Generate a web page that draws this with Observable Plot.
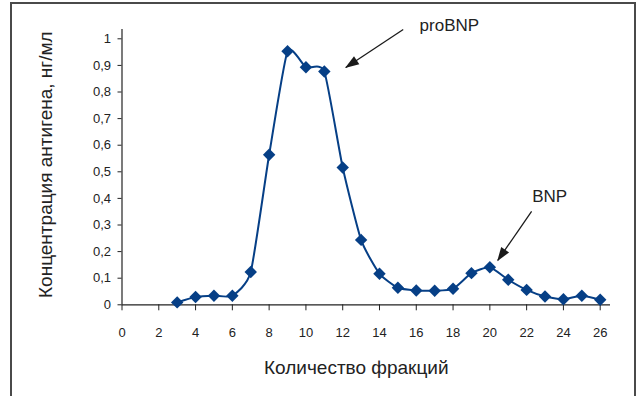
<!DOCTYPE html>
<html><head><meta charset="utf-8">
<script src="https://cdn.jsdelivr.net/npm/d3@7"></script>
<script src="https://cdn.jsdelivr.net/npm/@observablehq/plot@0.6"></script>
<style>
body{margin:0;background:#fff;}
#wrap{position:relative;width:638px;height:396px;overflow:hidden;font-family:"Liberation Sans",Arial,sans-serif;}
#frame{position:absolute;left:10px;top:2px;width:622px;height:420px;border:2px solid #4a4a4a;pointer-events:none;}
#wrap svg{position:absolute;left:0;top:0;}
</style></head><body>
<div id="wrap"><div id="frame"></div></div>
<script>
const fractions = [3,4,5,6,7,8,9,10,11,12,13,14,15,16,17,18,19,20,21,22,23,24,25,26];
const concentration = [0.009,0.029,0.034,0.034,0.123,0.564,0.953,0.893,0.877,0.516,0.244,0.117,0.064,0.054,0.053,0.06,0.119,0.141,0.094,0.056,0.031,0.021,0.034,0.019];
const xTicks = [0,2,4,6,8,10,12,14,16,18,20,22,24,26];
const yTicks = [0,0.1,0.2,0.3,0.4,0.5,0.6,0.7,0.8,0.9,1];
const xTitle = "Количество фракций";
const yTitle = "Концентрация антигена, нг/мл";
const annotations = [
  {label:"proBNP", x1:15.29, y1:1.035, x2:12.17, y2:0.892, tx:16.18, ty:1.048},
  {label:"BNP", x1:22.27, y1:0.351, x2:20.43, y2:0.167, tx:22.3, ty:0.407}
];
const data = fractions.map((f,i)=>({f, c: concentration[i]}));
const blue = "#063f86";
const ink = "#222";

const chart = Plot.plot({
  width: 638, height: 396,
  marginLeft: 121.5, marginRight: 28, marginTop: 29, marginBottom: 91.7,
  style: {fontFamily: '"Liberation Sans", Arial, sans-serif', background: "transparent", color: ink},
  x: {domain: [0, 26.56]},
  y: {domain: [0, 1.035]},
  marks: [
    Plot.ruleY([0], {stroke: ink, strokeWidth: 1.2}),
    Plot.ruleX([0], {stroke: ink, strokeWidth: 1.2}),
    Plot.axisX(xTicks, {tickSize: 6, tickPadding: 17, fontSize: 13, stroke: ink, fill: ink, label: null, tickFormat: d => String(d)}),
    Plot.axisY(yTicks, {tickSize: 4, tickPadding: 7, fontSize: 13, stroke: ink, fill: ink, label: null, tickFormat: d => String(d).replace(".", ",")}),
    Plot.line(data, {x: "f", y: "c", curve: "cardinal", tension: 0.45, stroke: blue, strokeWidth: 2}),
    Plot.dot(data, {x: "f", y: "c", symbol: "diamond2", r: 5.6, fill: blue, stroke: "none"}),
    Plot.link(annotations, {x1: "x1", y1: "y1", x2: "x2", y2: "y2", stroke: "#1a1a1a", strokeWidth: 1.3, markerEnd: "arrow"}),
    Plot.text(annotations, {x: "tx", y: "ty", text: "label", textAnchor: "start", fontSize: 17, fill: ink}),
    Plot.text([xTitle], {frameAnchor: "bottom", text: d => d, textAnchor: "middle", dy: 69, dx: -10, fontSize: 19, fill: ink}),
    Plot.text([yTitle], {frameAnchor: "left", text: d => d, textAnchor: "middle", rotate: -90, dx: -76.5, dy: -2.5, fontSize: 19, fill: ink})
  ]
});
// filled arrowheads
d3.select(chart).selectAll("marker")
  .attr("markerUnits", "userSpaceOnUse")
  .attr("viewBox", "-14 -6 16 12")
  .attr("markerWidth", 16).attr("markerHeight", 12)
  .attr("refX", 0).attr("refY", 0)
  .attr("fill", "#1a1a1a").attr("stroke", "none")
  .selectAll("path").attr("d", "M-13,-4.8L1,0L-13,4.8Z").attr("fill", "#1a1a1a").attr("stroke", "none");
document.getElementById("wrap").prepend(chart);
</script>
</body></html>
